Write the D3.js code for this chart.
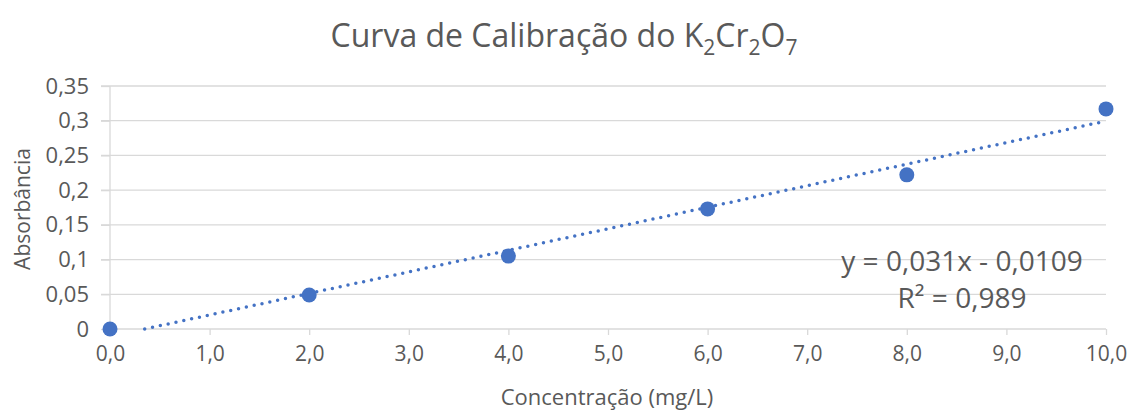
<!DOCTYPE html>
<html>
<head>
<meta charset="utf-8">
<script src="https://cdn.jsdelivr.net/npm/d3@7"></script>
<style>
  body { margin: 0; background: #fff; }
  text { font-family: "Open Sans", sans-serif; fill: #595959; }
</style>
</head>
<body>
<div id="chart"></div>
<script>
var width = 1129,
    height = 412;

// concentracao (mg/L) e absorbancia
var concentracao = [0, 2, 4, 6, 8, 10];
var absorbancia = [0, 0.049, 0.105, 0.173, 0.222, 0.317];
var xTicks = [0, 1, 2, 3, 4, 5, 6, 7, 8, 9, 10];
var yTicks = [0, 0.05, 0.1, 0.15, 0.2, 0.25, 0.3, 0.35];
var equacao = ["y = 0,031x - 0,0109", "R² = 0,989"];

var margin = {left: 110, right: 23, top: 86, bottom: 83};

var svg = d3.select("#chart").append("svg")
    .attr("width", width)
    .attr("height", height);

var x = d3.scaleLinear().domain([0, 10]).range([margin.left, width - margin.right]);
var y = d3.scaleLinear().domain([0, 0.35]).range([height - margin.bottom, margin.top]);

var comma = function (v, dec) {
    return (dec == null ? String(+v.toFixed(2)) : v.toFixed(dec)).replace(".", ",");
};

// grid
svg.append("g")
    .selectAll("line")
    .data(yTicks.slice(1))
    .enter()
    .append("line")
    .attr("x1", x(0) - 9)
    .attr("x2", x(10))
    .attr("y1", function (d) { return y(d); })
    .attr("y2", function (d) { return y(d); })
    .style("stroke", "#d9d9d9")
    .style("stroke-width", 1.3);

// y axis
var yAxis = svg.append("g")
    .attr("transform", "translate(" + x(0) + ",0)")
    .call(d3.axisLeft(y).tickValues(yTicks).tickSize(9).tickPadding(12)
        .tickFormat(function (d) { return comma(d); }));
yAxis.selectAll("line, path").style("stroke", "#d9d9d9").style("stroke-width", 1.3);
yAxis.select(".domain").attr("d", "M0," + y(0.35) + "V" + y(0));
yAxis.selectAll("text").style("font-size", "22px").style("font-family", null).attr("fill", null);

// x axis
var xAxis = svg.append("g")
    .attr("transform", "translate(0," + y(0) + ")")
    .call(d3.axisBottom(x).tickValues(xTicks).tickSize(6).tickPadding(11)
        .tickFormat(function (d) { return comma(d, 1); }));
xAxis.selectAll("line, path").style("stroke", "#d9d9d9").style("stroke-width", 1.3);
xAxis.select(".domain").attr("d", "M" + x(0) + ",0H" + x(10));
xAxis.selectAll("text").style("font-size", "21px").style("font-family", null).attr("fill", null);

// regressao linear (linha de tendencia)
var mx = d3.mean(concentracao),
    my = d3.mean(absorbancia);
var slope = d3.sum(concentracao, function (c, i) { return (c - mx) * (absorbancia[i] - my); }) /
    d3.sum(concentracao, function (c) { return (c - mx) * (c - mx); });
var intercept = my - slope * mx;
var x0 = Math.max(0, -intercept / slope);

svg.append("line")
    .attr("x1", x(x0))
    .attr("y1", y(slope * x0 + intercept))
    .attr("x2", x(10))
    .attr("y2", y(slope * 10 + intercept))
    .style("stroke", "#4472c4")
    .style("stroke-width", 3.5)
    .style("stroke-linecap", "round")
    .style("stroke-dasharray", "0,8");

// pontos
svg.append("g")
    .selectAll("circle")
    .data(concentracao)
    .enter()
    .append("circle")
    .attr("cx", function (d) { return x(d); })
    .attr("cy", function (d, i) { return y(absorbancia[i]); })
    .attr("r", 7.5)
    .style("fill", "#4472c4");

// equacao
svg.append("text")
    .attr("x", 962)
    .attr("y", 271)
    .attr("text-anchor", "middle")
    .style("font-size", "28px")
    .text(equacao[0]);
svg.append("text")
    .attr("x", 962)
    .attr("y", 308)
    .attr("text-anchor", "middle")
    .style("font-size", "28px")
    .text(equacao[1]);

// titulo
var title = svg.append("text")
    .attr("x", 564)
    .attr("y", 47)
    .attr("text-anchor", "middle")
    .style("font-size", "32px");
title.append("tspan").text("Curva de Calibração do K");
title.append("tspan").attr("dy", 8).style("font-size", "21px").text("2");
title.append("tspan").attr("dy", -8).text("Cr");
title.append("tspan").attr("dy", 8).style("font-size", "21px").text("2");
title.append("tspan").attr("dy", -8).text("O");
title.append("tspan").attr("dy", 8).style("font-size", "21px").text("7");

// titulos dos eixos
svg.append("text")
    .attr("x", 607)
    .attr("y", 405)
    .attr("text-anchor", "middle")
    .style("font-size", "22px")
    .text("Concentração (mg/L)");

svg.append("text")
    .attr("transform", "translate(30," + 209 + ") rotate(-90)")
    .attr("text-anchor", "middle")
    .style("font-size", "21px")
    .text("Absorbância");
</script>
</body>
</html>
